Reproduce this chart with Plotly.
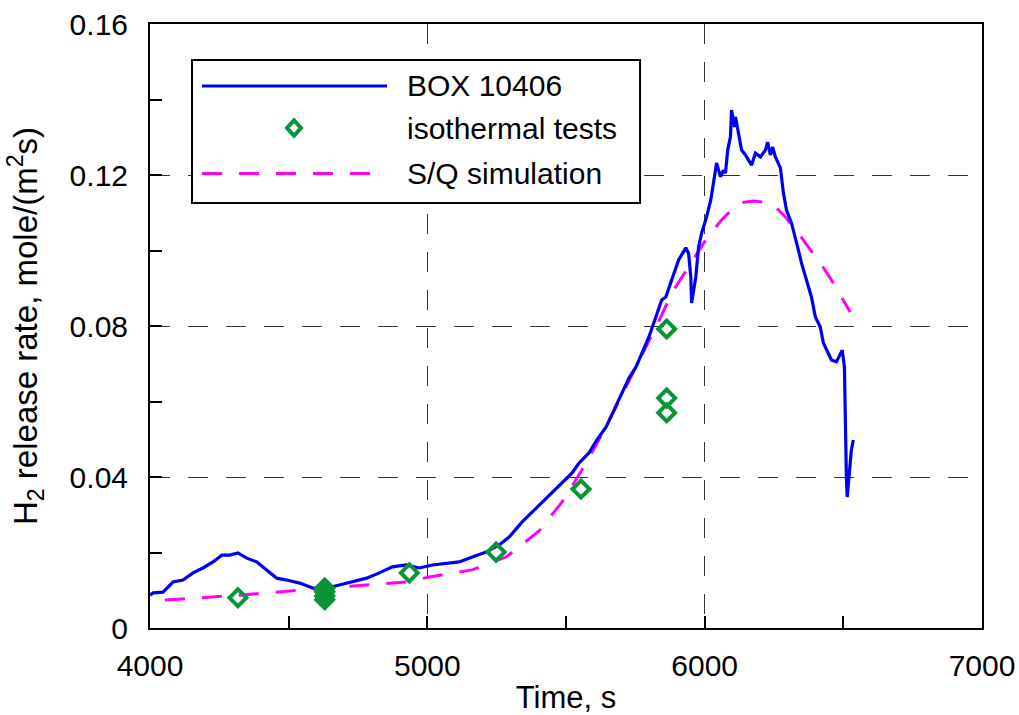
import plotly.graph_objects as go

# BOX 10406 measured H2 release rate
box_time = [4000, 4011, 4047, 4083, 4119, 4155, 4191, 4227, 4259, 4288, 4317, 4349, 4385,
            4421, 4457, 4493, 4540, 4586, 4637, 4683, 4730, 4781, 4827, 4874, 4924, 4971,
            5018, 5068, 5115, 5162, 5212, 5259, 5295, 5342, 5403, 5450, 5486, 5522, 5547,
            5583, 5611, 5644, 5673, 5701, 5727, 5752, 5773, 5799, 5824, 5845, 5860, 5881,
            5906, 5932, 5942, 5950, 5953, 5968, 5978, 5989, 6007, 6022, 6032, 6043, 6057,
            6068, 6075, 6083, 6093, 6097, 6108, 6111, 6122, 6133, 6147, 6169, 6183, 6201,
            6219, 6227, 6237, 6245, 6255, 6273, 6284, 6295, 6313, 6327, 6338, 6349, 6367,
            6385, 6399, 6417, 6428, 6439, 6457, 6475, 6489, 6496, 6504, 6507, 6511, 6514,
            6521, 6529, 6536]
box_rate = [0.0087, 0.0093, 0.0095, 0.0122, 0.0127, 0.0146, 0.0159, 0.0175, 0.0193, 0.0193,
            0.0199, 0.0185, 0.0175, 0.0154, 0.0132, 0.0127, 0.0119, 0.0106, 0.0106, 0.0114,
            0.0122, 0.0132, 0.0146, 0.0162, 0.0167, 0.0159, 0.0167, 0.0172, 0.0175, 0.0188,
            0.0201, 0.0220, 0.0241, 0.0281, 0.0326, 0.0358, 0.0387, 0.0411, 0.0437, 0.0464,
            0.0498, 0.0532, 0.0577, 0.0623, 0.0662, 0.0691, 0.0728, 0.0771, 0.0824, 0.0869,
            0.0877, 0.0922, 0.0975, 0.1007, 0.0993, 0.0930, 0.0861, 0.0930, 0.1009, 0.1046,
            0.1089, 0.1134, 0.1187, 0.1232, 0.1195, 0.1213, 0.1205, 0.1266, 0.1301, 0.1372,
            0.1327, 0.1354, 0.1311, 0.1266, 0.1253, 0.1226, 0.1258, 0.1248, 0.1266, 0.1287,
            0.1253, 0.1274, 0.1248, 0.1219, 0.1152, 0.1107, 0.1073, 0.1036, 0.1001, 0.0967,
            0.0922, 0.0877, 0.0824, 0.0797, 0.0755, 0.0736, 0.0710, 0.0705, 0.0723, 0.0736,
            0.0691, 0.0517, 0.0400, 0.0347, 0.0400, 0.0472, 0.0498]

# Isothermal test points
iso_time = [4317, 4630, 4630, 4630, 4630, 4935, 5248, 5554, 5863, 5863, 5863]
iso_rate = [0.0080, 0.0106, 0.0096, 0.0085, 0.0075, 0.0146, 0.0201, 0.0368, 0.0792, 0.0609, 0.0570]

# S/Q simulation
sim_time = [4054, 4324, 4637, 4924, 5007, 5162, 5284, 5403, 5486, 5558, 5644, 5716, 5763,
            5842, 5881, 5942, 6004, 6061, 6122, 6176, 6241, 6291, 6338, 6374, 6417, 6453,
            6493, 6525]
sim_rate = [0.0074, 0.0087, 0.0106, 0.0122, 0.0135, 0.0154, 0.0188, 0.0257, 0.0334, 0.0419,
            0.0532, 0.0638, 0.0705, 0.0824, 0.0887, 0.0956, 0.1028, 0.1081, 0.1126, 0.1131,
            0.1126, 0.1089, 0.1046, 0.1009, 0.0967, 0.0927, 0.0877, 0.0837]

legend_labels = ["BOX 10406", "isothermal tests", "S/Q simulation"]

BLUE = "#0000f0"
GREEN = "#0a9438"
MAGENTA = "#ff00ff"
FONT = "Liberation Sans, Arial, sans-serif"

fig = go.Figure()
fig.add_trace(go.Scatter(x=sim_time, y=sim_rate, mode="lines", name=legend_labels[2],
                         line=dict(color=MAGENTA, width=3, dash="20px,17px")))
fig.add_trace(go.Scatter(x=box_time, y=box_rate, mode="lines", name=legend_labels[0],
                         line=dict(color=BLUE, width=3.2)))
fig.add_trace(go.Scatter(x=iso_time, y=iso_rate, mode="markers", name=legend_labels[1],
                         marker=dict(symbol="diamond-open", size=13, color=GREEN,
                                     line=dict(color=GREEN, width=4))))

# Hand-drawn legend box in paper coordinates
shapes = [
    dict(type="rect", xref="paper", yref="paper", x0=0.0505, x1=0.589, y0=0.7036, y1=0.9404,
         fillcolor="white", line=dict(color="black", width=2), layer="above"),
    dict(type="line", xref="paper", yref="paper", x0=0.0625, x1=0.2849, y0=0.8974, y1=0.8974,
         line=dict(color=BLUE, width=3), layer="above"),
    dict(type="line", xref="paper", yref="paper", x0=0.0625, x1=0.2849, y0=0.7525, y1=0.7525,
         line=dict(color=MAGENTA, width=3, dash="20px,17px"), layer="above"),
    dict(type="path", xref="paper", yref="paper", layer="above",
         path="M 0.1731 0.8405 L 0.1815 0.8278 L 0.1731 0.8151 L 0.1647 0.8278 Z",
         fillcolor="white", line=dict(color=GREEN, width=4)),
]
annotations = []
for label, yp in zip(legend_labels, [0.8974, 0.8278, 0.7525]):
    annotations.append(dict(text=label, xref="paper", yref="paper", x=0.3065, y=yp,
                            xanchor="left", yanchor="middle", showarrow=False,
                            font=dict(family=FONT, size=30, color="black")))

axis_common = dict(showline=True, linecolor="black", linewidth=2, mirror=True,
                   ticks="inside", ticklen=12, tickwidth=1.5, tickcolor="black",
                   showgrid=True, gridcolor="#333333", gridwidth=1.3, griddash="20px,18px",
                   zeroline=False, automargin=False,
                   tickfont=dict(family=FONT, size=30, color="black"))

fig.update_layout(
    width=1019, height=715,
    margin=dict(l=150, r=37, t=24, b=87),
    paper_bgcolor="white", plot_bgcolor="white",
    showlegend=False,
    shapes=shapes, annotations=annotations,
    font=dict(family=FONT, color="black"),
    xaxis=dict(range=[4000, 7000], tickvals=[4000, 5000, 6000, 7000],
               minor=dict(dtick=500, tick0=4000, ticks="inside", ticklen=12, tickwidth=1.5,
                          tickcolor="black", showgrid=False),
               title=dict(text="Time, s", font=dict(family=FONT, size=31), standoff=8),
               ticklabelstandoff=10, **axis_common),
    yaxis=dict(range=[0, 0.16], tickvals=[0, 0.04, 0.08, 0.12, 0.16],
               ticktext=["0", "0.04", "0.08", "0.12", "0.16"],
               minor=dict(dtick=0.02, tick0=0, ticks="inside", ticklen=12, tickwidth=1.5,
                          tickcolor="black", showgrid=False),
               title=dict(text="H<sub>2</sub> release rate, mole/(m<sup>2</sup>s)",
                          font=dict(family=FONT, size=33), standoff=22),
               ticklabelstandoff=14, **axis_common),
)

fig.write_html("out.html")
